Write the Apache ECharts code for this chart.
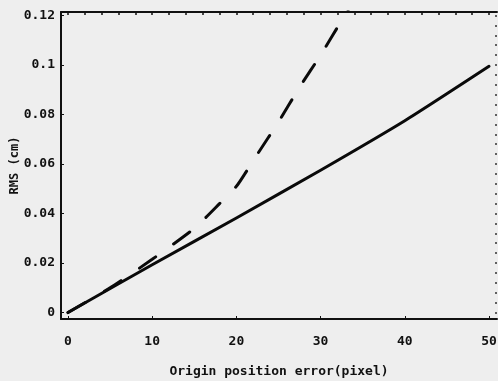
<!DOCTYPE html>
<html>
<head>
<meta charset="utf-8">
<script src="https://cdn.jsdelivr.net/npm/echarts@6/dist/echarts.min.js"></script>
<style>
  html, body { margin: 0; padding: 0; background: #eeeeee; }
  #chart { width: 498px; height: 381px; }
</style>
</head>
<body>
<div id="chart"></div>
<script>
// values
const xTicks = [0, 10, 20, 30, 40, 50]
const yTicks = [0, 0.02, 0.04, 0.06, 0.08, 0.1, 0.12]
const topTicks = [0, 2, 4, 6, 8, 10, 12, 14, 16, 18, 20, 22, 24, 26, 28, 30, 32, 34, 36, 38, 40, 42, 44, 46, 48, 50]
const rightTicks = [0, 0.004, 0.008, 0.012, 0.016, 0.02, 0.024, 0.028, 0.032, 0.036, 0.04, 0.044, 0.048, 0.052, 0.056, 0.06, 0.064, 0.068, 0.072, 0.076, 0.08, 0.084, 0.088, 0.092, 0.096, 0.1, 0.104, 0.108, 0.112, 0.116, 0.12]

const solidErr = [0, 10, 20, 30, 40, 50]
const solidRms = [0, 0.0193, 0.0382, 0.0575, 0.0775, 0.0995]

const dashErr = [0, 5, 10, 15, 18, 20, 21, 22.5, 25, 27.5, 30, 32.5, 33.5]
const dashRms = [0, 0.010, 0.0215, 0.034, 0.044, 0.051, 0.056, 0.064, 0.077, 0.091, 0.104, 0.118, 0.1235]

const chart = echarts.init(document.getElementById("chart"))

const labelFont = {
  fontFamily: "DejaVu Sans Mono",
  fontWeight: "bold",
  color: "#111",
}

const option = {
  backgroundColor: "#eeeeee",
  animation: false,
  grid: { left: 61, right: 1, top: 12, bottom: 62, containLabel: false, outerBoundsMode: "none" },
  xAxis: [
    {
      type: "value",
      min: -0.83,
      max: 50.95,
      name: "Origin position error(pixel)",
      nameLocation: "middle",
      nameGap: 46,
      nameMoveOverlap: false,
      nameTextStyle: { ...labelFont, fontSize: 13 },
      axisLine: { onZero: false, lineStyle: { color: "#111", width: 2 } },
      axisTick: { inside: true, length: 3, lineStyle: { color: "#111" }, customValues: xTicks },
      axisLabel: { ...labelFont, fontSize: 13, margin: 16, customValues: xTicks },
      splitLine: { show: false },
    },
    {
      type: "value",
      position: "top",
      min: -0.83,
      max: 50.95,
      axisLine: { onZero: false, lineStyle: { color: "#111", width: 2 } },
      axisTick: { inside: true, length: 3, lineStyle: { color: "#111", width: 1.5 }, customValues: topTicks },
      axisLabel: { show: false },
      splitLine: { show: false },
    },
  ],
  yAxis: [
    {
      type: "value",
      min: -0.0026,
      max: 0.1214,
      name: "RMS (cm)",
      nameLocation: "middle",
      nameGap: 40,
      nameMoveOverlap: false,
      nameTextStyle: { ...labelFont, fontSize: 12 },
      axisLine: { onZero: false, lineStyle: { color: "#111", width: 2 } },
      axisTick: { inside: true, length: 3, lineStyle: { color: "#111" }, customValues: yTicks },
      axisLabel: { ...labelFont, fontSize: 13, margin: 6, customValues: yTicks },
      splitLine: { show: false },
    },
    {
      type: "value",
      position: "right",
      min: -0.0026,
      max: 0.1214,
      axisLine: { show: false, onZero: false },
      axisTick: { inside: true, length: 2, lineStyle: { color: "#333", width: 1.5 }, customValues: rightTicks },
      axisLabel: { show: false },
      splitLine: { show: false },
    },
  ],
  series: [
    {
      type: "line",
      data: solidErr.map((x, i) => [x, solidRms[i]]),
      showSymbol: false,
      smooth: 0.2,
      lineStyle: { color: "#0a0a0a", width: 3, cap: "round", join: "round" },
    },
    {
      type: "line",
      data: dashErr.map((x, i) => [x, dashRms[i]]),
      showSymbol: false,
      smooth: 0.2,
      clip: true,
      lineStyle: { color: "#0a0a0a", width: 3, type: [20, 22], cap: "round" },
    },
  ],
}

chart.setOption(option)
</script>
</body>
</html>
